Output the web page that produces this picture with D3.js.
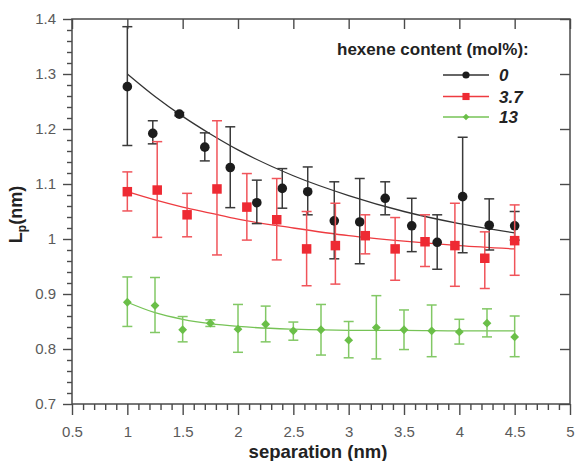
<!DOCTYPE html>
<html>
<head>
<meta charset="utf-8">
<script src="https://cdn.jsdelivr.net/npm/d3@7"></script>
<style>
  html, body { margin: 0; padding: 0; background: #fff; }
  svg { display: block; font-family: "Liberation Sans", Arial, sans-serif; }
</style>
</head>
<body>
<div id="chart"></div>
<script>
// Persistence length vs. separation for three hexene contents
const xTickValues = [0.5, 1, 1.5, 2, 2.5, 3, 3.5, 4, 4.5, 5];
const xTickLabels = ["0.5", "1", "1.5", "2", "2.5", "3", "3.5", "4", "4.5", "5"];
const yTickValues = [0.7, 0.8, 0.9, 1.0, 1.1, 1.2, 1.3, 1.4];
const yTickLabels = ["0.7", "0.8", "0.9", "1", "1.1", "1.2", "1.3", "1.4"];

const seriesNames = ["0", "3.7", "13"];

// 0 mol%
const blackX  = [1.00, 1.23, 1.47, 1.70, 1.93, 2.17, 2.40, 2.63, 2.87, 3.10, 3.33, 3.57, 3.80, 4.03, 4.27, 4.50];
const blackY  = [1.277, 1.192, 1.227, 1.167, 1.130, 1.066, 1.092, 1.086, 1.033, 1.031, 1.074, 1.024, 0.994, 1.077, 1.025, 1.024];
const blackHi = [1.386, 1.215, 1.230, 1.193, 1.204, 1.107, 1.128, 1.131, 1.104, 1.110, 1.104, 1.074, 1.044, 1.185, 1.073, 1.050];
const blackLo = [1.170, 1.173, 1.224, 1.142, 1.057, 1.028, 1.056, 1.044, 0.964, 0.955, 1.044, 0.977, 0.945, 0.975, 0.980, 0.998];

// 3.7 mol%
const redX  = [1.00, 1.27, 1.54, 1.81, 2.08, 2.35, 2.62, 2.88, 3.15, 3.42, 3.69, 3.96, 4.23, 4.50];
const redY  = [1.086, 1.089, 1.044, 1.091, 1.058, 1.035, 0.982, 0.988, 1.006, 0.982, 0.995, 0.988, 0.965, 0.997];
const redHi = [1.122, 1.177, 1.083, 1.215, 1.119, 1.110, 1.050, 1.065, 1.044, 1.039, 1.044, 1.065, 1.013, 1.062];
const redLo = [1.051, 1.003, 1.004, 0.971, 0.998, 0.962, 0.915, 0.918, 0.973, 0.925, 0.950, 0.914, 0.910, 0.934];

// 13 mol%
const greenX  = [1.00, 1.25, 1.50, 1.75, 2.00, 2.25, 2.50, 2.75, 3.00, 3.25, 3.50, 3.75, 4.00, 4.25, 4.50];
const greenY  = [0.885, 0.879, 0.835, 0.847, 0.836, 0.845, 0.833, 0.835, 0.816, 0.839, 0.835, 0.833, 0.831, 0.847, 0.822];
const greenHi = [0.931, 0.930, 0.859, 0.853, 0.881, 0.878, 0.849, 0.881, 0.850, 0.897, 0.871, 0.880, 0.854, 0.873, 0.860];
const greenLo = [0.841, 0.830, 0.813, 0.841, 0.794, 0.813, 0.816, 0.789, 0.784, 0.782, 0.799, 0.786, 0.809, 0.822, 0.786];

// Fitted decay curves
const fitX     = [1.00, 1.25, 1.50, 1.75, 2.00, 2.50, 3.00, 3.50, 4.00, 4.50];
const blackFit = [1.300, 1.259, 1.223, 1.191, 1.162, 1.115, 1.079, 1.050, 1.028, 1.011];
const redFit   = [1.086, 1.071, 1.058, 1.047, 1.036, 1.020, 1.006, 0.996, 0.988, 0.982];
const greenFit = [0.885, 0.866, 0.854, 0.846, 0.841, 0.836, 0.834, 0.834, 0.833, 0.833];

const W = 575, H = 461;
const plotL = 72, plotR = 570, plotT = 19, plotB = 404;

const svg = d3.select("#chart").append("svg").attr("width", W).attr("height", H);

const x = d3.scaleLinear().domain([0.5, 5]).range([plotL, plotR]);
const y = d3.scaleLinear().domain([0.7, 1.4]).range([plotB, plotT]);

const axisColor = "#4a4a4a";
const labelColor = "#5a5a5a";

function styleAxis(g) {
  g.select(".domain").remove();
  g.selectAll(".tick line").attr("stroke", axisColor).attr("stroke-width", 1.4);
}

// minor ticks
const xMinor = d3.range(5, 51).map(d => d / 10).filter(v => !xTickValues.some(t => Math.abs(t - v) < 1e-6));
const yMinor = d3.range(35, 71).map(d => d / 50).filter(v => !yTickValues.some(t => Math.abs(t - v) < 1e-6));

svg.append("g").attr("transform", `translate(0,${plotB})`)
  .call(d3.axisBottom(x).tickValues(xMinor).tickSize(6).tickFormat(""))
  .call(styleAxis);
svg.append("g").attr("transform", `translate(${plotL},0)`)
  .call(d3.axisLeft(y).tickValues(yMinor).tickSize(5).tickFormat(""))
  .call(styleAxis);

// major ticks with labels
const gx = svg.append("g").attr("transform", `translate(0,${plotB})`)
  .call(d3.axisBottom(x).tickValues(xTickValues).tickSize(11).tickPadding(11)
    .tickFormat((d, i) => xTickLabels[i]))
  .call(styleAxis);
gx.selectAll("text").attr("font-size", 15).attr("fill", labelColor)
  .attr("font-family", "'Liberation Sans', Arial, sans-serif");

const gy = svg.append("g").attr("transform", `translate(${plotL},0)`)
  .call(d3.axisLeft(y).tickValues(yTickValues).tickSize(9).tickPadding(7)
    .tickFormat((d, i) => yTickLabels[i]))
  .call(styleAxis);
gy.selectAll("text").attr("font-size", 15).attr("fill", labelColor)
  .attr("font-family", "'Liberation Sans', Arial, sans-serif");

// mirrored inner ticks on top and right
svg.append("g").attr("transform", `translate(0,${plotT})`)
  .call(d3.axisTop(x).tickValues(xTickValues).tickSize(-10).tickFormat(""))
  .call(styleAxis);
svg.append("g").attr("transform", `translate(${plotR},0)`)
  .call(d3.axisRight(y).tickValues(yTickValues).tickSize(-10).tickFormat(""))
  .call(styleAxis);

// frame
svg.append("rect")
  .attr("x", plotL).attr("y", plotT)
  .attr("width", plotR - plotL).attr("height", plotB - plotT)
  .attr("fill", "none").attr("stroke", axisColor).attr("stroke-width", 1.5);

const series = [
  { xs: blackX, ys: blackY, hi: blackHi, lo: blackLo, fit: blackFit,
    color: "#1c1c1c", err: "#3a3a3a", fitColor: "#333", shape: "circle" },
  { xs: redX, ys: redY, hi: redHi, lo: redLo, fit: redFit,
    color: "#ee2a33", err: "#f0545a", fitColor: "#ee3b40", shape: "square" },
  { xs: greenX, ys: greenY, hi: greenHi, lo: greenLo, fit: greenFit,
    color: "#6abf48", err: "#82c865", fitColor: "#76c356", shape: "diamond" }
];

const line = d3.line().x((d, i) => x(fitX[i])).y(d => y(d)).curve(d3.curveMonotoneX);

function drawMarker(g, shape, cx, cy, color, scale) {
  if (shape === "circle") {
    g.append("circle").attr("cx", cx).attr("cy", cy).attr("r", 4.8 * scale).attr("fill", color);
  } else if (shape === "square") {
    const s = 9.5 * scale;
    g.append("rect").attr("x", cx - s / 2).attr("y", cy - s / 2).attr("width", s).attr("height", s).attr("fill", color);
  } else {
    const r = 4.4 * scale;
    g.append("path").attr("d", `M${cx},${cy - r}L${cx + r},${cy}L${cx},${cy + r}L${cx - r},${cy}Z`).attr("fill", color);
  }
}

// fit lines
series.forEach(s => {
  svg.append("path").datum(s.fit).attr("d", line)
    .attr("fill", "none").attr("stroke", s.fitColor).attr("stroke-width", 1.3);
});

// error bars and markers
series.forEach(s => {
  const g = svg.append("g");
  const cap = 5;
  s.xs.forEach((xv, i) => {
    const px = x(xv), pHi = y(s.hi[i]), pLo = y(s.lo[i]);
    g.append("line").attr("x1", px).attr("x2", px).attr("y1", pHi).attr("y2", pLo)
      .attr("stroke", s.err).attr("stroke-width", 1.5);
    g.append("line").attr("x1", px - cap).attr("x2", px + cap).attr("y1", pHi).attr("y2", pHi)
      .attr("stroke", s.err).attr("stroke-width", 1.5);
    g.append("line").attr("x1", px - cap).attr("x2", px + cap).attr("y1", pLo).attr("y2", pLo)
      .attr("stroke", s.err).attr("stroke-width", 1.5);
  });
  s.xs.forEach((xv, i) => drawMarker(g, s.shape, x(xv), y(s.ys[i]), s.color, 1));
});

// legend
const lg = svg.append("g");
lg.append("text").attr("x", 337).attr("y", 55)
  .attr("font-size", 17).attr("font-weight", "bold").attr("fill", "#222")
  .text("hexene content (mol%):");
const rowY = [75, 96.5, 117];
series.forEach((s, i) => {
  lg.append("line").attr("x1", 443).attr("x2", 489).attr("y1", rowY[i]).attr("y2", rowY[i])
    .attr("stroke", s.fitColor).attr("stroke-width", 1.3);
  drawMarker(lg, s.shape, 466, rowY[i], s.color, 0.75);
  lg.append("text").attr("x", 499).attr("y", rowY[i] + 6.3)
    .attr("font-size", 17).attr("font-weight", "bold").attr("font-style", "italic").attr("fill", "#222")
    .text(seriesNames[i]);
});

// axis titles
svg.append("text").attr("x", (plotL + plotR) / 2 - 3).attr("y", 458)
  .attr("text-anchor", "middle").attr("font-size", 18.5).attr("font-weight", "bold").attr("fill", "#222")
  .text("separation (nm)");

const yt = svg.append("text")
  .attr("transform", `translate(22,${(plotT + plotB) / 2 + 3}) rotate(-90)`)
  .attr("text-anchor", "middle").attr("font-size", 18).attr("font-weight", "bold").attr("fill", "#222");
yt.append("tspan").text("L");
yt.append("tspan").attr("font-size", 12).attr("dy", 4).text("p");
yt.append("tspan").attr("dy", -4).text("(nm)");
</script>
</body>
</html>
